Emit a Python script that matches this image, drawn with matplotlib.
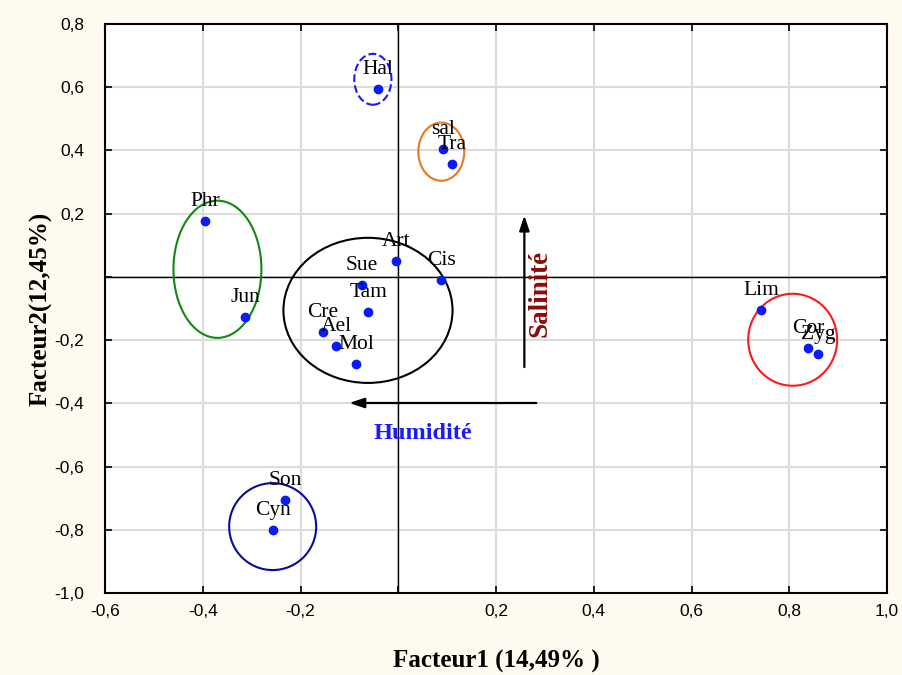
import matplotlib
matplotlib.use("Agg")
import matplotlib.pyplot as plt
from matplotlib.patches import Ellipse
from matplotlib.ticker import FixedLocator, FuncFormatter

# species coordinates on the two factors
labels = ["Hal", "sal", "Tra", "Phr", "Jun", "Art", "Cis", "Sue", "Tam",
          "Cre", "Ael", "Mol", "Lim", "Cor", "Zyg", "Son", "Cyn"]
f1 = [-0.042, 0.092, 0.110, -0.395, -0.313, -0.004, 0.088, -0.074, -0.061,
      -0.155, -0.127, -0.086, 0.742, 0.838, 0.859, -0.231, -0.256]
f2 = [0.595, 0.405, 0.358, 0.177, -0.127, 0.051, -0.009, -0.025, -0.111,
      -0.174, -0.218, -0.275, -0.104, -0.225, -0.244, -0.706, -0.801]

# groups drawn as ellipses: centre x, centre y, width, height
grp_x = [-0.052, 0.088, -0.370, -0.062, 0.807, -0.257]
grp_y = [0.625, 0.396, 0.024, -0.106, -0.199, -0.790]
grp_w = [0.076, 0.094, 0.180, 0.346, 0.182, 0.178]
grp_h = [0.161, 0.184, 0.434, 0.459, 0.291, 0.275]
grp_col = ["#1a1aff", "#e87722", "#118811", "black", "#ff1a1a", "#0a0a99"]
grp_ls = ["--", "-", "-", "-", "-", "-"]

xticks = [-0.6, -0.4, -0.2, 0.0, 0.2, 0.4, 0.6, 0.8, 1.0]
yticks = [-1.0, -0.8, -0.6, -0.4, -0.2, 0.0, 0.2, 0.4, 0.6, 0.8]

fig = plt.figure(figsize=(9.03, 6.75), dpi=100, facecolor="#fefaf0")
ax = fig.add_axes([0.1163, 0.1215, 0.866, 0.843])
ax.set_facecolor("white")
ax.set_xlim(-0.6, 1.0)
ax.set_ylim(-1.0, 0.8)

ax.xaxis.set_major_locator(FixedLocator(xticks))
ax.yaxis.set_major_locator(FixedLocator(yticks))


def fmt(v, pos):
    if abs(v) < 1e-9:
        return ""
    return f"{v:.1f}".replace(".", ",")


ax.xaxis.set_major_formatter(FuncFormatter(fmt))
ax.yaxis.set_major_formatter(FuncFormatter(fmt))
ax.grid(True, color="#dcdcdc", lw=1.5)
ax.set_axisbelow(True)
ax.axhline(0, color="black", lw=1)
ax.axvline(0, color="black", lw=1)

ax.tick_params(direction="in", length=5, width=1.2, top=True, right=True,
               labelsize=12.5)
ax.tick_params(axis="y", pad=15)
ax.tick_params(axis="x", pad=8)
for t in ax.get_xticklabels() + ax.get_yticklabels():
    t.set_family("Liberation Sans")
for s in ax.spines.values():
    s.set_linewidth(1.5)

for x, y, w, h, c, ls in zip(grp_x, grp_y, grp_w, grp_h, grp_col, grp_ls):
    ax.add_patch(Ellipse((x, y), w, h, fill=False, edgecolor=c, lw=1.5,
                         ls=ls, zorder=3))

ax.plot(f1, f2, "o", color="#0a1aff", ms=6, zorder=4)
for lab, x, y in zip(labels, f1, f2):
    ax.annotate(lab, (x, y), xytext=(0, 14), textcoords="offset points",
                ha="center", va="center", fontsize=15.5,
                family="Liberation Serif", zorder=5)

# gradients
ax.annotate("", xy=(0.258, 0.203), xytext=(0.258, -0.294),
            arrowprops=dict(arrowstyle="-|>,head_length=0.9,head_width=0.3",
                            color="black", lw=1.6))
ax.annotate("", xy=(-0.106, -0.399), xytext=(0.288, -0.399),
            arrowprops=dict(arrowstyle="-|>,head_length=0.9,head_width=0.3",
                            color="black", lw=1.6))
ax.text(0.290, -0.054, "Salinité", rotation=90, ha="center", va="center",
        fontsize=19.5, fontweight="bold", color="#8b0a0a",
        family="Liberation Serif")
ax.text(0.051, -0.494, "Humidité", ha="center", va="center",
        fontsize=17.5, fontweight="bold", color="#1a1aff",
        family="Liberation Serif")

ax.set_xlabel("Facteur1 (14,49% )", fontsize=18, fontweight="bold",
              family="Liberation Serif", labelpad=22)
ax.set_ylabel("Facteur2(12,45%)", fontsize=18, fontweight="bold",
              family="Liberation Serif", labelpad=1)

fig.savefig("out.png", dpi=100, facecolor=fig.get_facecolor())
